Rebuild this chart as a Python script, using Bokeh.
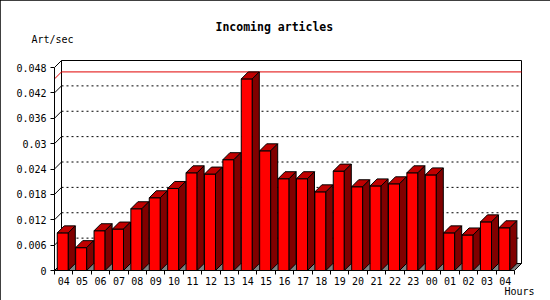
from bokeh.plotting import figure
from bokeh.models import Range1d, FixedTicker, Title
from bokeh.embed import file_html
from bokeh.resources import INLINE

# ---- data ----
hours = ["04", "05", "06", "07", "08", "09", "10", "11", "12", "13", "14", "15",
         "16", "17", "18", "19", "20", "21", "22", "23", "00", "01", "02", "03", "04"]
art_per_sec = [0.0089, 0.0054, 0.0094, 0.0098, 0.0146, 0.0172, 0.0194, 0.0231,
               0.0228, 0.0262, 0.0453, 0.0283, 0.0217, 0.0217, 0.0186, 0.0235,
               0.0198, 0.0200, 0.0205, 0.0231, 0.0226, 0.0089, 0.0084, 0.0115, 0.0101]
y_ticks = [0, 0.006, 0.012, 0.018, 0.024, 0.03, 0.036, 0.042, 0.048]
y_tick_labels = ["0", "0.006", "0.012", "0.018", "0.024", "0.03", "0.036", "0.042", "0.048"]
title_text = "Incoming articles"
y_title = "Art/sec"
x_title = "Hours"

# ---- geometry (pixels) ----
W, H = 550, 300
FL, FR, FT, FB = 54, 522, 59, 270          # frame edges on canvas
n = len(hours)
px_x = 18.4                                 # pixels per category
ymax = y_ticks[-1]
px_y = 203.0 / ymax                         # pixels per unit
depth = 7                                   # 3d depth in px
dx = depth / px_x
dy = depth / px_y

x_end = (FR - FL) / px_x
y_end = (FB - FT) / px_y

FONT = "DejaVu Sans Mono"

p = figure(width=W, height=H, output_backend="svg", toolbar_location=None,
           x_range=Range1d(0, x_end), y_range=Range1d(0, y_end),
           min_border_left=FL, min_border_right=W - FR,
           min_border_top=FT, min_border_bottom=H - FB,
           title_location=None)
p.outline_line_color = None
p.xgrid.visible = False
p.ygrid.visible = False
p.background_fill_color = "white"
p.border_fill_color = "white"
p.styles = {"outline": "1px solid black", "outline-offset": "-1px"}

# back panel
p.patch([dx, n + dx, n + dx, dx], [dy, dy, ymax + dy, ymax + dy],
        fill_color="white", line_color="black", line_width=1)

# dotted gridlines on the back wall
inner = y_ticks[1:-1]
p.multi_line([[dx, n + dx] for v in inner], [[v + dy, v + dy] for v in inner],
             line_color="black", line_width=1, line_dash="2 3")
# diagonal tick connectors on the left wall
p.multi_line([[0, dx] for v in y_ticks], [[v, v + dy] for v in y_ticks],
             line_color="black", line_width=1)

# max line (red)
vmax = max(art_per_sec)
p.line([0, dx, n + dx], [vmax, vmax + dy, vmax + dy], line_color="#E00000", line_width=1)

# floor
p.patch([0, n, n + dx, dx], [0, 0, dy, dy], fill_color="#808080", line_color="black", line_width=1)

# bars
left = [i + 0.15 for i in range(n)]
right = [i + 0.75 for i in range(n)]
p.quad(left=left, right=right, bottom=0, top=art_per_sec,
       fill_color="#FF0000", line_color="black", line_width=1)
p.patches([[l, r, r + dx, l + dx] for l, r in zip(left, right)],
          [[v, v, v + dy, v + dy] for v in art_per_sec],
          fill_color="#C00000", line_color="black", line_width=1)
p.patches([[r, r + dx, r + dx, r] for r in right],
          [[0, dy, v + dy, v] for v in art_per_sec],
          fill_color="#800000", line_color="black", line_width=1)

# axes
xa = p.xaxis[0]
xa.ticker = FixedTicker(ticks=[i + 0.5 for i in range(n)], minor_ticks=list(range(n + 1)))
xa.major_label_overrides = {i + 0.5: h for i, h in enumerate(hours)}
xa.bounds = (0, n)
xa.major_tick_out = 0
xa.major_tick_in = 0
xa.minor_tick_out = 4
xa.minor_tick_in = 0
xa.major_label_standoff = 2
xa.major_label_text_font = FONT
xa.major_label_text_font_size = "10px"
xa.major_label_text_color = "black"
xa.axis_line_color = "black"
xa.major_tick_line_color = None
xa.minor_tick_line_color = "black"

ya = p.yaxis[0]
ya.ticker = FixedTicker(ticks=y_ticks, minor_ticks=[])
ya.major_label_overrides = {t: s for t, s in zip(y_ticks, y_tick_labels)}
ya.bounds = (0, ymax)
ya.major_tick_out = 4
ya.major_tick_in = 0
ya.minor_tick_out = 0
ya.minor_tick_in = 0
ya.major_label_standoff = 4
ya.major_label_text_font = FONT
ya.major_label_text_font_size = "10px"
ya.major_label_text_color = "black"
ya.axis_line_color = "black"
ya.major_tick_line_color = "black"

# texts as titles in the side panels
p.add_layout(Title(text=y_title, align="left", offset=-23, standoff=30,
                   text_font=FONT, text_font_size="10px", text_font_style="normal",
                   text_color="black"), "above")
p.add_layout(Title(text=title_text, align="left", offset=161, standoff=-35.5,
                   text_font=FONT, text_font_size="11.5px", text_font_style="bold",
                   text_color="black"), "above")
p.add_layout(Title(text=x_title, align="right", offset=-12, standoff=-18,
                   text_font=FONT, text_font_size="10px", text_font_style="normal",
                   text_color="black"), "below")

open("out.html", "w").write(file_html(p, INLINE))
